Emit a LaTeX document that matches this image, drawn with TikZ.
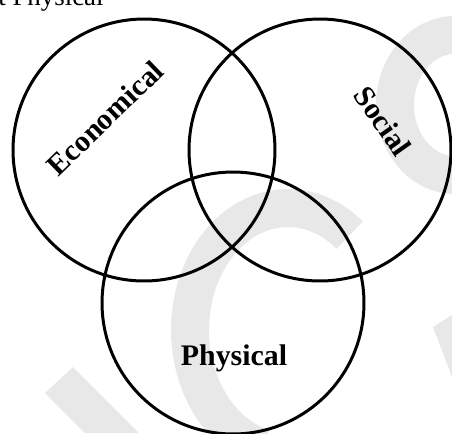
\documentclass[tikz,border=0pt]{standalone}
\usepackage{fontspec}
\setmainfont{Liberation Serif}
\usepackage{tikz}

\begin{document}
\begin{tikzpicture}[
  x=0.02cm, y=-0.02cm,
  set/.style={draw, circle, line width=1.7pt, minimum size=5.24cm, inner sep=0pt},
  setlabel/.style={font=\fontsize{17}{20}\selectfont\bfseries, inner sep=0pt},
  wmark/.style={draw=black!9, line width=0.76cm},
  wmarkfill/.style={fill=black!9},
]
\useasboundingbox (0,0) rectangle (452,433);
\clip (0,0) rectangle (452,433);

% faint watermark behind the sets
\draw[wmark] (288,330) ++(-51:98 and 122) arc[start angle=-51, end angle=-255, x radius=98, y radius=122];
\draw[wmark] (455,105) ellipse[x radius=60, y radius=70];
\fill[wmarkfill] (45,393) -- (73,367) -- (139,433) -- (85,433) -- cycle;
\fill[wmarkfill] (433,327) -- (452,315) -- (452,377) -- cycle;

% cut-off line of text above the figure
\node[font=\fontsize{15.3}{18}\selectfont, anchor=base west, inner sep=0pt] (cuttext) at (-2,5) {t Physical};

% the three sets
\node[set] (econ) at (144,150) {};
\node[set] (social) at (320,150) {};
\node[set] (phys) at (233,303) {};

% set labels
\node[setlabel, rotate=44] (econlabel) at (105,118) {Economical};
\node[setlabel, rotate=-55] (sociallabel) at (383,121) {Social};
\node[setlabel, anchor=base] (physlabel) at (234,365) {Physical};

\end{tikzpicture}
\end{document}
